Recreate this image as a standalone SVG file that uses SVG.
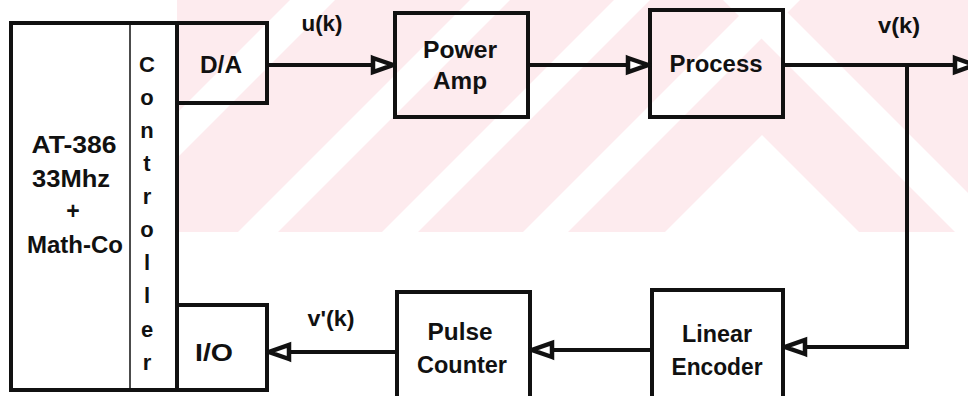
<svg xmlns="http://www.w3.org/2000/svg" width="968" height="396" viewBox="0 0 968 396">
<style>
.box{fill:none;stroke:#111;stroke-width:4;stroke-linejoin:miter}
.thin{fill:none;stroke:#111;stroke-width:1.5}
.wire{fill:none;stroke:#111;stroke-width:4}
.arr{marker-end:url(#tri)}
text{font-family:"Liberation Sans",Arial,sans-serif;font-weight:bold;fill:#111;text-anchor:middle}
.s20{font-size:22px}
.s21{font-size:23px}
.wm{fill:#fff}
</style>
<defs>
<marker id="tri" viewBox="0 0 28 22" markerWidth="28" markerHeight="22" markerUnits="userSpaceOnUse" refX="26" refY="11" orient="auto">
<path d="M4,4 L24,11 L4,18 Z" fill="#fff" stroke="#111" stroke-width="4.5"/>
</marker>
<clipPath id="wmclip"><rect x="177" y="0" width="791" height="232"/></clipPath>
</defs>
<rect x="0" y="0" width="968" height="396" fill="#fff"/>
<g id="watermark" clip-path="url(#wmclip)">
<rect x="177" y="0" width="791" height="232" fill="#fdebee"/>
<polygon class="wm" points="290,0 335,0 103,232 58,232"/>
<polygon class="wm" points="470,0 510,0 278,232 238,232"/>
<polygon class="wm" points="614,0 650,0 418,232 382,232"/>
<polygon class="wm" points="755,0 800,0 568,232 523,232"/>
<polygon class="wm" points="762,135 859,232 665,232"/>
<polygon class="wm" points="723,0 775,0 1007,232 955,232"/>
</g>
<g id="computer">
<path class="box" d="M177,23 H11 V390 H177"/>
<line class="thin" x1="130" y1="23" x2="130" y2="390"/>
<line class="box" x1="177" y1="23" x2="177" y2="390"/>
<text class="s21" x="74" y="153" textLength="85" lengthAdjust="spacingAndGlyphs">AT-386</text>
<text class="s21" x="71" y="187" textLength="78" lengthAdjust="spacingAndGlyphs">33Mhz</text>
<text class="s21" x="73" y="219">+</text>
<text class="s21" x="75" y="253" textLength="96" lengthAdjust="spacingAndGlyphs">Math-Co</text>
<text class="s20" x="147" y="72">C</text>
<text class="s20" x="147" y="105">o</text>
<text class="s20" x="147" y="138">n</text>
<text class="s20" x="147" y="171">t</text>
<text class="s20" x="147" y="204">r</text>
<text class="s20" x="147" y="237">o</text>
<text class="s20" x="147" y="270">l</text>
<text class="s20" x="147" y="303">l</text>
<text class="s20" x="147" y="337">e</text>
<text class="s20" x="147" y="370">r</text>
</g>
<g id="da">
<rect class="box" x="177" y="23" width="90" height="80"/>
<text class="s21" x="221" y="73" textLength="42" lengthAdjust="spacingAndGlyphs">D/A</text>
</g>
<g id="io">
<rect class="box" x="177" y="305" width="90" height="85"/>
<text class="s21" x="214" y="361" textLength="38" lengthAdjust="spacingAndGlyphs">I/O</text>
</g>
<g id="poweramp">
<rect class="box" x="395" y="13" width="133" height="104"/>
<text class="s21" x="460" y="58" textLength="74" lengthAdjust="spacingAndGlyphs">Power</text>
<text class="s21" x="460" y="89" textLength="54" lengthAdjust="spacingAndGlyphs">Amp</text>
</g>
<g id="process">
<rect class="box" x="650" y="10" width="133" height="107"/>
<text class="s21" x="716" y="72" textLength="93" lengthAdjust="spacingAndGlyphs">Process</text>
</g>
<g id="pulsecounter">
<rect class="box" x="397" y="292" width="133" height="130"/>
<text class="s21" x="460" y="340" textLength="65" lengthAdjust="spacingAndGlyphs">Pulse</text>
<text class="s21" x="462" y="373" textLength="90" lengthAdjust="spacingAndGlyphs">Counter</text>
</g>
<g id="linearencoder">
<rect class="box" x="652" y="290" width="131" height="130"/>
<text class="s21" x="717" y="342" textLength="70" lengthAdjust="spacingAndGlyphs">Linear</text>
<text class="s21" x="717" y="375" textLength="91" lengthAdjust="spacingAndGlyphs">Encoder</text>
</g>
<g id="connectors">
<path class="wire arr" d="M267,65 H395"/>
<path class="wire arr" d="M528,65 H650"/>
<path class="wire arr" d="M783,65 H977"/>
<path class="wire arr" d="M907,65 V347 H783"/>
<path class="wire arr" d="M652,350 H530"/>
<path class="wire arr" d="M397,352 H267"/>
<text class="s20" x="322" y="31" textLength="41" lengthAdjust="spacingAndGlyphs">u(k)</text>
<text class="s20" x="899" y="33" textLength="42" lengthAdjust="spacingAndGlyphs">v(k)</text>
<text class="s20" x="331" y="326" textLength="47" lengthAdjust="spacingAndGlyphs">v'(k)</text>
</g>
</svg>
